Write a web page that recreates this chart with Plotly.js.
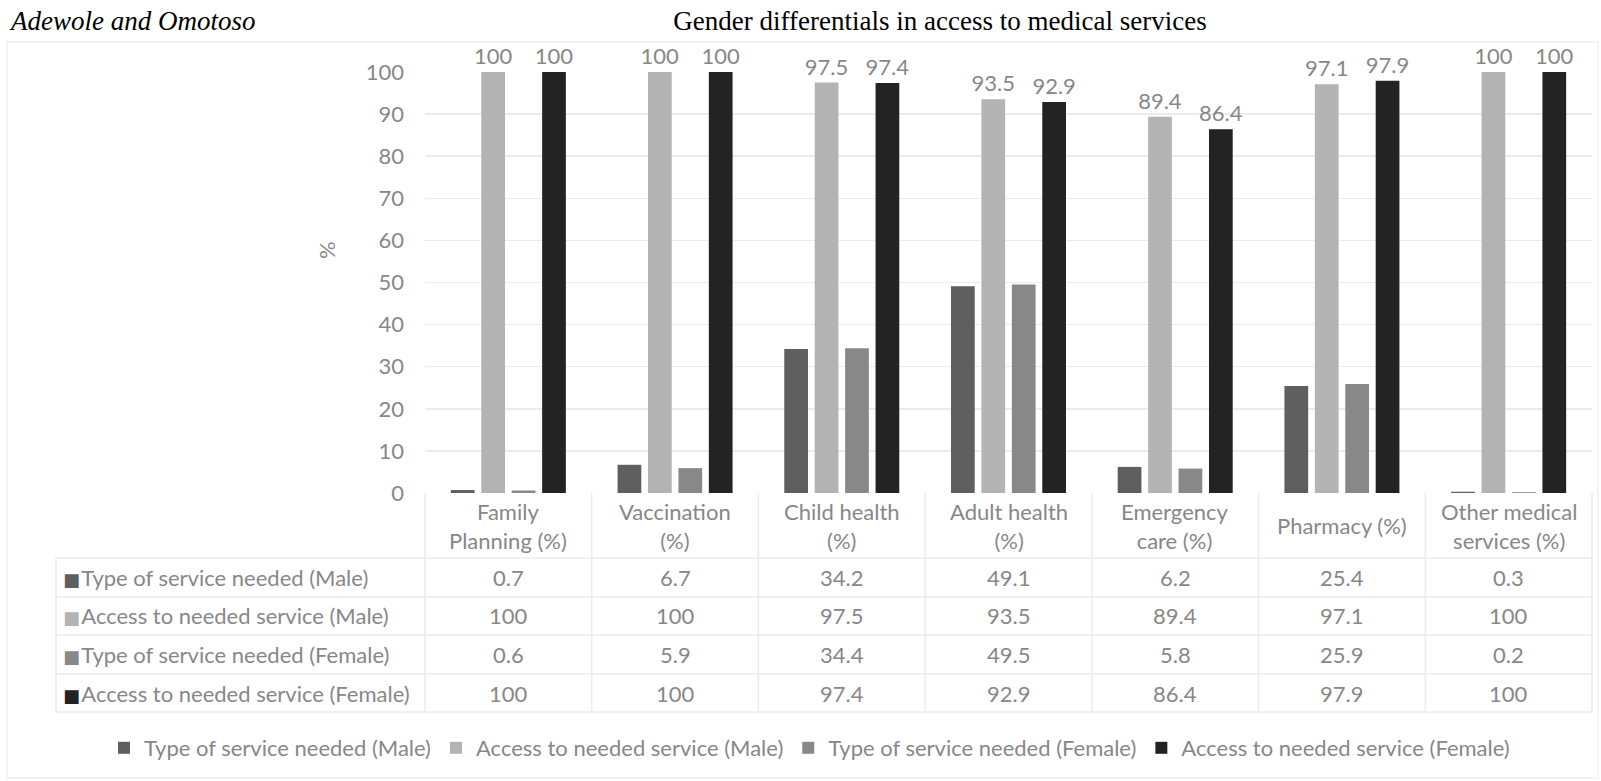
<!DOCTYPE html>
<html>
<head>
<meta charset="utf-8">
<script src="https://cdn.plot.ly/plotly-3.0.1.min.js"></script>
<style>
  html, body { margin: 0; padding: 0; background: #ffffff; }
  #chart { width: 1601px; height: 781px; }
</style>
</head>
<body>
<div id="chart"></div>
<script>
// ---------------- data ----------------
const categories = ['Family Planning (%)', 'Vaccination (%)', 'Child health (%)', 'Adult health (%)', 'Emergency care (%)', 'Pharmacy (%)', 'Other medical services (%)'];
const categoryLabels = ['Family<br>Planning (%)', 'Vaccination<br>(%)', 'Child health<br>(%)', 'Adult health<br>(%)', 'Emergency<br>care (%)', 'Pharmacy (%)', 'Other medical<br>services (%)'];
const seriesNames = ['Type of service needed (Male)', 'Access to needed service (Male)', 'Type of service needed (Female)', 'Access to needed service (Female)'];
const typeMale = [0.7, 6.7, 34.2, 49.1, 6.2, 25.4, 0.3];
const accessMale = [100, 100, 97.5, 93.5, 89.4, 97.1, 100];
const typeFemale = [0.6, 5.9, 34.4, 49.5, 5.8, 25.9, 0.2];
const accessFemale = [100, 100, 97.4, 92.9, 86.4, 97.9, 100];
const yTicks = [0, 10, 20, 30, 40, 50, 60, 70, 80, 90, 100];
const chartTitle = 'Gender differentials in access to medical services';
const authorText = 'Adewole and Omotoso';
const yTitle = '%';

// ---------------- styles ----------------
const W = 1601, H = 781;
const M = { l: 425, r: 9, t: 72, b: 288, autoexpand: false };
const plotW = W - M.l - M.r, plotH = H - M.t - M.b;
const px2x = px => (px - M.l) / plotW;
const py2y = py => (H - M.b - py) / plotH;

const colors = ['#5f5f5f', '#b3b3b3', '#888888', '#232323'];
const textGray = '#878787';
const gridGray = '#ebebeb';
const FONT = 'Lato, "Open Sans", sans-serif';
const SERIF = '"Liberation Serif", "Times New Roman", serif';
const FS = 22;

const seriesValues = [typeMale, accessMale, typeFemale, accessFemale];
const showLabels = [false, true, false, true];

const traces = seriesValues.map((vals, i) => ({
  type: 'bar',
  name: seriesNames[i],
  x: categories,
  y: vals,
  marker: { color: colors[i], line: { width: 0 } },
  text: showLabels[i] ? vals.map(v => String(v)) : undefined,
  textposition: showLabels[i] ? 'outside' : 'none',
  textfont: { family: FONT, size: FS, color: textGray },
  constraintext: 'none',
  cliponaxis: false,
  hoverinfo: 'x+y+name'
}));

// table geometry (pixels)
const headerTop = 493, rowLines = [558, 597, 635, 674, 712];
const labelLeft = 56;
const annotations = [];
const shapes = [];

// header cells (category names)
categories.forEach((c, i) => {
  annotations.push({
    xref: 'x', yref: 'paper', x: c, y: py2y((headerTop + rowLines[0]) / 2),
    text: categoryLabels[i], showarrow: false, xanchor: 'center', yanchor: 'middle',
    font: { family: FONT, size: FS, color: textGray }, align: 'center'
  });
});

// data rows
seriesValues.forEach((vals, r) => {
  const yc = py2y((rowLines[r] + rowLines[r + 1]) / 2);
  annotations.push({
    xref: 'paper', yref: 'paper', x: px2x(61), y: yc,
    text: '<span style="color:' + colors[r] + ';font-family:DejaVu Sans;font-size:18px">■</span><span style="font-size:5px">&nbsp;</span>' + seriesNames[r],
    showarrow: false, xanchor: 'left', yanchor: 'middle',
    font: { family: FONT, size: FS, color: textGray }
  });
  vals.forEach((v, i) => {
    annotations.push({
      xref: 'x', yref: 'paper', x: categories[i], y: yc,
      text: String(v), showarrow: false, xanchor: 'center', yanchor: 'middle',
      font: { family: FONT, size: FS, color: textGray }
    });
  });
});

// y-axis title and author header
annotations.push({
  xref: 'paper', yref: 'paper', x: px2x(327), y: py2y(250), text: yTitle, textangle: -90,
  showarrow: false, xanchor: 'center', yanchor: 'middle',
  font: { family: FONT, size: FS, color: textGray }
});
annotations.push({
  xref: 'paper', yref: 'paper', x: px2x(7), y: py2y(21), text: '<i>' + authorText + '</i>',
  showarrow: false, xanchor: 'left', yanchor: 'middle',
  font: { family: SERIF, size: 27, color: '#000000' }
});

// table grid lines
const lineStyle = { color: gridGray, width: 1.5 };
rowLines.forEach(py => {
  shapes.push({ type: 'line', xref: 'paper', yref: 'paper', x0: px2x(labelLeft), x1: 1, y0: py2y(py), y1: py2y(py), line: lineStyle });
});
for (let k = 0; k <= categories.length; k++) {
  const xf = k / categories.length;
  shapes.push({ type: 'line', xref: 'paper', yref: 'paper', x0: xf, x1: xf, y0: py2y(headerTop), y1: py2y(rowLines[rowLines.length - 1]), line: lineStyle });
}
shapes.push({ type: 'line', xref: 'paper', yref: 'paper', x0: px2x(labelLeft), x1: px2x(labelLeft), y0: py2y(rowLines[0]), y1: py2y(rowLines[rowLines.length - 1]), line: lineStyle });
// chart area border
shapes.push({ type: 'rect', xref: 'paper', yref: 'paper', x0: px2x(7), x1: px2x(1598), y0: py2y(42), y1: py2y(778), line: { color: '#efefef', width: 1.5 }, layer: 'below' });

const layout = {
  width: W, height: H,
  margin: M,
  paper_bgcolor: '#ffffff', plot_bgcolor: '#ffffff',
  title: {
    text: chartTitle, xref: 'container', yref: 'container', x: 940 / W, y: 1 - 21 / H,
    xanchor: 'center', yanchor: 'middle',
    font: { family: SERIF, size: 27, color: '#000000' }
  },
  barmode: 'group',
  bargap: 0.27,
  bargroupgap: 0.22,
  showlegend: true,
  legend: {
    orientation: 'h', xref: 'paper', yref: 'paper',
    x: px2x(104), xanchor: 'left', y: py2y(748), yanchor: 'middle',
    bgcolor: 'rgba(0,0,0,0)',
    font: { family: FONT, size: FS, color: textGray }, itemwidth: 30, traceorder: 'normal'
  },
  xaxis: {
    type: 'category', range: [-0.5, categories.length - 0.5], showticklabels: false,
    showgrid: false, zeroline: false, showline: false, ticks: '', fixedrange: true
  },
  yaxis: {
    range: [0, 100], tickvals: yTicks, ticktext: yTicks.map(String),
    tickfont: { family: FONT, size: FS, color: textGray },
    showgrid: true, gridcolor: gridGray, gridwidth: 1.5, zeroline: false, showline: false,
    ticks: '', ticklabelstandoff: 20, fixedrange: true
  },
  annotations: annotations,
  shapes: shapes
};

Plotly.newPlot('chart', traces, layout, { displayModeBar: false, staticPlot: true });
</script>
</body>
</html>
